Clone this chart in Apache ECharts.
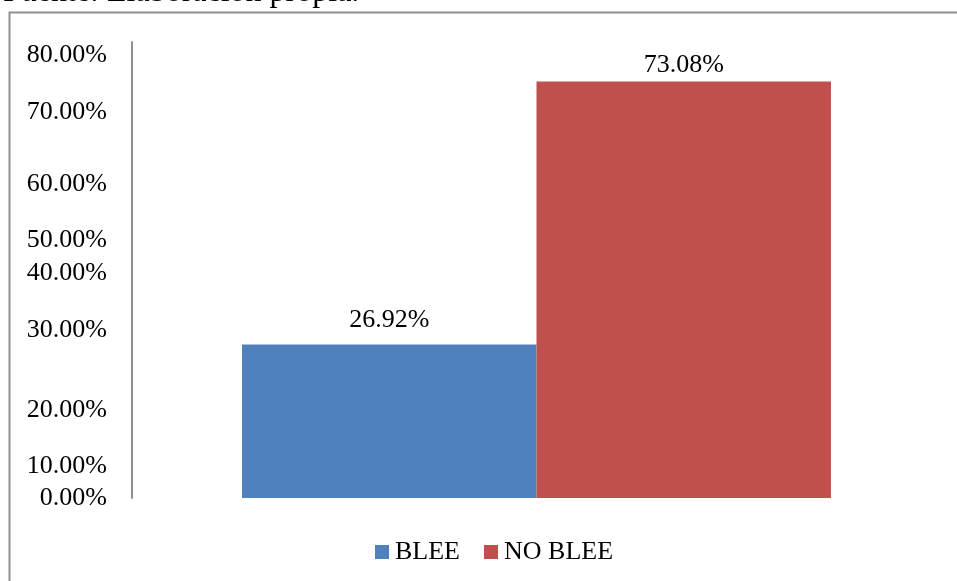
<!DOCTYPE html>
<html>
<head>
<meta charset="utf-8">
<style>
  html, body { margin: 0; padding: 0; background: #ffffff; }
  #chart { width: 957px; height: 581px; }
</style>
<script src="https://cdn.jsdelivr.net/npm/echarts@6/dist/echarts.min.js"></script>
</head>
<body>
<div id="chart"></div>
<script>
// Share of isolates by ESBL (BLEE) status
const categories = [''];
const seriesNames = ['BLEE', 'NO BLEE'];
const bleeValues = [26.92];
const noBleeValues = [73.08];

// Y-axis labels and the axis values where each one sits
const tickLabels = ['0.00%', '10.00%', '20.00%', '30.00%', '40.00%', '50.00%', '60.00%', '70.00%', '80.00%'];
const tickValues = [0, 5.66, 15.46, 29.46, 39.46, 45.26, 55.06, 67.66, 77.76];

const sourceNote = 'Fuente: Elaboración propia.';

const FONT = '"Liberation Serif", "Times New Roman", serif';

const chart = echarts.init(document.getElementById('chart'), null, { renderer: 'canvas' });

chart.setOption({
  animation: false,
  backgroundColor: '#ffffff',
  textStyle: { fontFamily: FONT, color: '#000000' },
  graphic: [
    {
      type: 'text',
      left: 3,
      top: -23,
      style: { text: sourceNote, font: '32px ' + FONT, fill: '#000000' }
    },
    {
      type: 'rect',
      shape: { x: 9.5, y: 12.5, width: 1000, height: 700 },
      style: { fill: 'none', stroke: '#8f8f8f', lineWidth: 2 },
      silent: true
    }
  ],
  grid: {
    left: 132,
    right: 16,
    top: 42,
    bottom: 83,
    outerBoundsMode: 'none'
  },
  legend: {
    data: seriesNames,
    left: 375,
    top: 539,
    padding: 0,
    icon: 'rect',
    itemWidth: 14,
    itemHeight: 14,
    itemGap: 24,
    textStyle: { fontFamily: FONT, fontSize: 26, color: '#000000', padding: [0, 0, 0, 1] }
  },
  xAxis: {
    type: 'category',
    data: categories,
    axisLine: { show: false },
    axisTick: { show: false },
    axisLabel: { show: false },
    splitLine: { show: false }
  },
  yAxis: {
    type: 'value',
    min: 0,
    max: 80,
    axisLine: { show: true, lineStyle: { color: '#8f8f8f', width: 2 } },
    axisTick: { show: false },
    splitLine: { show: false },
    axisLabel: {
      customValues: tickValues,
      margin: 25,
      fontFamily: FONT,
      fontSize: 26,
      color: '#000000',
      formatter: function (v) {
        const i = tickValues.indexOf(v);
        return i >= 0 ? tickLabels[i] : '';
      }
    }
  },
  series: [
    {
      name: seriesNames[0],
      type: 'bar',
      data: bleeValues,
      barGap: '0%',
      barCategoryGap: '27.2%',
      itemStyle: { color: '#4F81BD' },
      label: {
        show: true,
        position: 'top',
        distance: 11,
        fontFamily: FONT,
        fontSize: 26,
        color: '#000000',
        formatter: function (p) { return p.value.toFixed(2) + '%'; }
      }
    },
    {
      name: seriesNames[1],
      type: 'bar',
      data: noBleeValues,
      barGap: '0%',
      barCategoryGap: '27.2%',
      itemStyle: { color: '#C0504D' },
      label: {
        show: true,
        position: 'top',
        distance: 3,
        fontFamily: FONT,
        fontSize: 26,
        color: '#000000',
        formatter: function (p) { return p.value.toFixed(2) + '%'; }
      }
    }
  ]
});
</script>
</body>
</html>
